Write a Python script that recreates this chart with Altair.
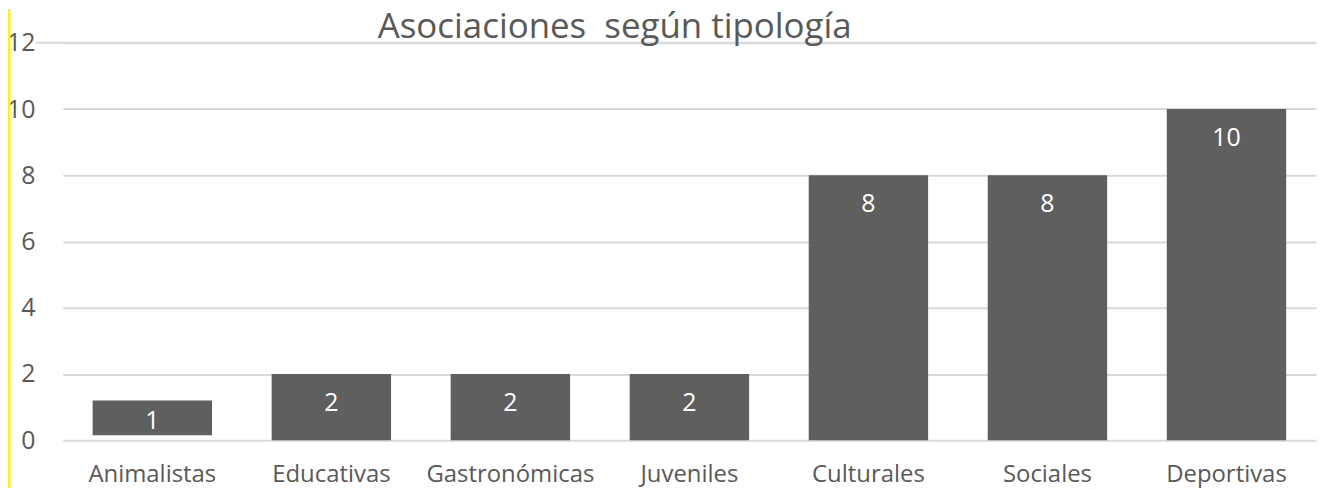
import altair as alt
import pandas as pd

categories = ["Animalistas", "Educativas", "Gastronómicas", "Juveniles", "Culturales", "Sociales", "Deportivas"]
bar_tops = [1.2, 2, 2, 2, 8, 8, 10]
bar_bases = [0.15, 0, 0, 0, 0, 0, 0]
labels = ["1", "2", "2", "2", "8", "8", "10"]
y_ticks = [0, 2, 4, 6, 8, 10, 12]
title_text = "Asociaciones\u00a0 según tipología"

df = pd.DataFrame({"cat": categories, "top": bar_tops, "base": bar_bases, "label": labels})

W, H = 1258, 399
FONT = "Open Sans"
TXT = "#595959"

xenc = alt.X("cat:N", sort=categories, title=None,
             scale=alt.Scale(paddingInner=0.333, paddingOuter=0.1667),
             axis=alt.Axis(domain=False, ticks=False, labelAngle=0, labelFont=FONT,
                           labelFontSize=24, labelColor=TXT, labelPadding=22, grid=False))
yscale = alt.Scale(domain=[0, 12], nice=False)

bars = alt.Chart(df).mark_bar(color="#5f5f5f").encode(
    x=xenc,
    y=alt.Y("top:Q", scale=yscale, title=None,
            axis=alt.Axis(values=y_ticks, domain=False, ticks=False, labelFont=FONT,
                          labelFontSize=25, labelColor=TXT, labelPadding=28,
                          gridColor="#d9d9d9", gridWidth=2)),
    y2="base:Q",
)

text_tall = alt.Chart(df).transform_filter("datum.top >= 2").mark_text(
    color="white", font=FONT, fontSize=25, baseline="alphabetic", dy=37
).encode(
    x=alt.X("cat:N", sort=categories),
    y=alt.Y("top:Q", scale=yscale),
    text="label:N",
)

text_short = alt.Chart(df).transform_filter("datum.top < 2").mark_text(
    color="white", font=FONT, fontSize=25, baseline="alphabetic", dy=29
).encode(
    x=alt.X("cat:N", sort=categories),
    y=alt.Y("top:Q", scale=yscale),
    text="label:N",
)

grid12 = alt.Chart(pd.DataFrame({"v": [12]})).mark_rule(color="#d9d9d9", strokeWidth=2).encode(
    y=alt.Y("v:Q", scale=yscale),
    x=alt.value(-27), x2=alt.value(W),
)

yellow = alt.Chart(pd.DataFrame({"v": [0]})).mark_rule(color="#ffee22", strokeWidth=3).encode(
    x=alt.value(-54), y=alt.value(-34), y2=alt.value(H + 48),
)

title = alt.Chart(pd.DataFrame({"t": [title_text]})).mark_text(
    font=FONT, fontSize=35, color=TXT, baseline="alphabetic", align="center"
).encode(x=alt.value(554), y=alt.value(-5), text="t:N")

chart = alt.layer(grid12, bars, text_tall, text_short, title, yellow).properties(
    width=W, height=H,
    autosize=alt.AutoSizeParams(type="none"),
    padding={"left": 55, "top": 34, "right": 2, "bottom": 48},
).configure_view(stroke=None)

chart.save("out.html", embed_options={"renderer": "svg", "actions": False})
